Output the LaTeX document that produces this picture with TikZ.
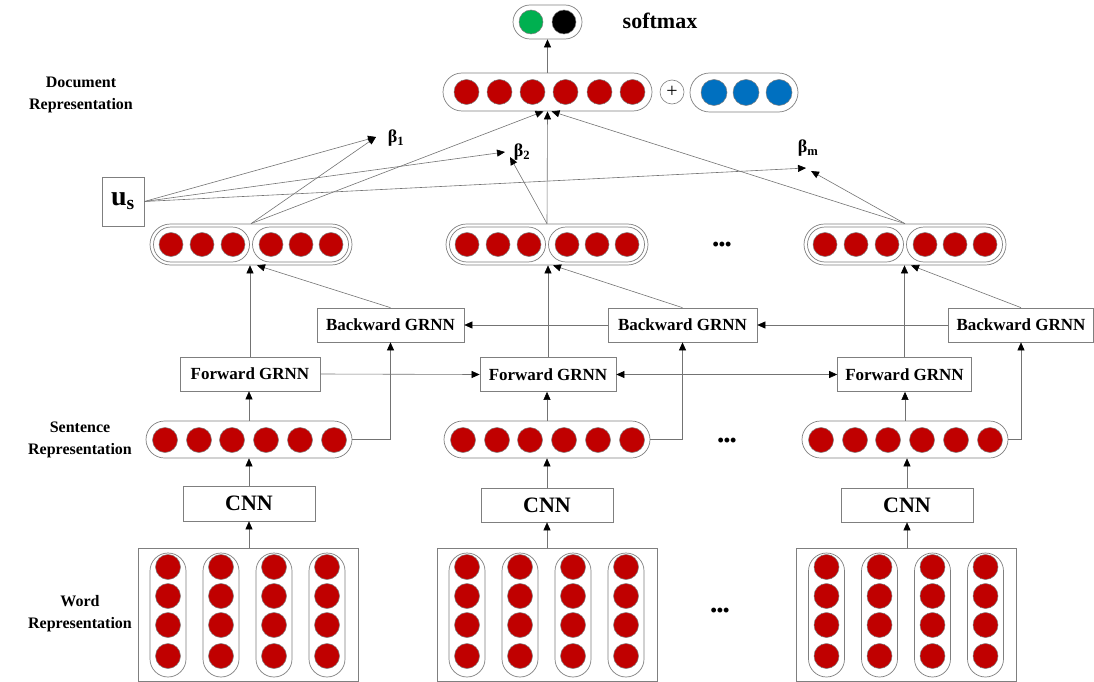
\documentclass[tikz,border=0pt]{standalone}
\usepackage{fontspec}
\setmainfont{Liberation Serif}
\usetikzlibrary{arrows.meta}
\definecolor{dred}{HTML}{C00000}
\definecolor{sgreen}{HTML}{00B050}
\definecolor{sblue}{HTML}{0070C0}
\definecolor{edgec}{HTML}{7F7F7F}
\newcommand\mygrp[2]{%
  \node[pill=20.5,minimum width=202pt,minimum height=41pt] (#1) at (#2,244.5) {};
  \node[pill=17.5,minimum width=96pt,minimum height=35pt] (#1l) at ({#2-49.5},244.5) {};
  \node[pill=17.5,minimum width=96pt,minimum height=35pt] (#1r) at ({#2+49.5},244.5) {};
  \foreach \i/\dx in {1/-80,2/-49,3/-18,4/20,5/50,6/80}
    \node[ball,minimum size=24pt] (#1c\i) at ({#2+\dx},244.5) {};
}
\newcommand\mysent[2]{%
  \node[pill=18.5,minimum width=206pt,minimum height=37pt] (#1) at (#2,439.5) {};
  \foreach \i/\dx in {1/-84,2/-50,3/-17,4/17,5/51,6/85}
    \node[ball] (#1c\i) at ({#2+\dx},440) {};
}
\newcommand\myword[2]{%
  \node[box,minimum width=220pt,minimum height=133pt] (#1) at (#2,614.5) {};
  \foreach \j/\dx in {1/-80,2/-27,3/26,4/79}{
    \node[pill=18,minimum width=36pt,minimum height=124pt] (#1k\j) at ({#2+\dx},615) {};
    \foreach \i/\yy in {1/567,2/596,3/625,4/656}
      \node[ball] (#1k\j c\i) at ({#2+\dx},\yy) {};
  }
}
\begin{document}
\begin{tikzpicture}[x=1pt,y=-1pt,
  every node/.style={font=\bfseries},
  ball/.style={circle,draw=edgec,line width=0.5pt,minimum size=25pt,inner sep=0pt,fill=dred},
  pill/.style={draw=edgec,line width=0.7pt,inner sep=0pt,rounded corners=#1},
  box/.style={draw=edgec,line width=0.7pt,inner sep=0pt,fill=white},
  lab/.style={align=center,font=\bfseries\fontsize{16}{22}\selectfont},
  grnn/.style={box,minimum height=34pt,font=\bfseries\fontsize{17}{17}\selectfont},
  cnn/.style={box,minimum width=132pt,font=\bfseries\fontsize{22}{22}\selectfont},
  beta/.style={font=\bfseries\fontsize{18}{18}\selectfont},
  dots/.style={font=\bfseries\fontsize{18}{18}\selectfont},
  conn/.style={draw=black!55,line width=0.6pt},
  tip/.tip={Triangle[length=8pt,width=7pt,color=black]},
  arr/.style={conn,-tip},
  arrboth/.style={conn,tip-tip},
]
\useasboundingbox (0,0) rectangle (1094,682);

% softmax
\node[pill=17,minimum width=69pt,minimum height=34pt] (sm) at (547.5,22) {};
\node[ball,fill=sgreen,minimum size=24pt] (sm1) at (531,22) {};
\node[ball,fill=black,minimum size=24pt] (sm2) at (564,22) {};
\node[font=\bfseries\fontsize{22}{22}\selectfont] (smt) at (660,21) {softmax};

% document representation
\node[pill=19,minimum width=209pt,minimum height=38pt] (doc) at (547.5,92) {};
\foreach \i/\dx in {1/-81,2/-48,3/-15,4/18,5/52,6/85}
  \node[ball] (doc\i) at ({547.5+\dx},92) {};
\node[circle,draw=edgec,line width=0.6pt,minimum size=24pt,inner sep=0pt,
      font=\fontsize{20}{20}\selectfont] (plus) at (672,92) {+};
\node[pill=19.5,minimum width=108pt,minimum height=39pt] (ext) at (744,92.5) {};
\foreach \i/\xx in {1/714,2/746,3/779}
  \node[ball,fill=sblue,minimum size=26pt] (ext\i) at (\xx,92.5) {};
\node[lab] (ldoc) at (81,95) {Document\\Representation};

% u_s and betas
\node[box,minimum width=42pt,minimum height=49pt,font=\bfseries\fontsize{28}{28}\selectfont] (us) at (123,201.5) {u\textsubscript{s}};
\coordinate (b1) at (376,137);
\coordinate (b2u) at (505,152);
\coordinate (b2g) at (510,157);
\coordinate (bmu) at (806,168);
\coordinate (bmg) at (811,171);
\node[beta] (lb1) at (396,138) {β\textsubscript{1}};
\node[beta] (lb2) at (522,152) {β\textsubscript{2}};
\node[beta] (lbm) at (808,148) {β\textsubscript{m}};

% bi-directional outputs
\mygrp{ga}{251}
\mygrp{gb}{547}
\mygrp{gc}{905}
\node[dots] (dotsa) at (722,246) {•••};

% GRNN boxes
\node[grnn,minimum width=147pt] (ba) at (390.5,325) {Backward GRNN};
\node[grnn,minimum width=149pt] (bb) at (682.5,325) {Backward GRNN};
\node[grnn,minimum width=145pt] (bc) at (1021,325) {Backward GRNN};
\node[grnn,minimum width=140pt] (fa) at (250,374) {Forward GRNN};
\node[grnn,minimum width=136pt] (fb) at (548,374.5) {Forward GRNN};
\node[grnn,minimum width=134pt] (fc) at (904.5,374.5) {Forward GRNN};

% sentence representation
\mysent{sa}{249}
\mysent{sb}{547}
\mysent{sc}{905}
\node[dots] (dotsb) at (727,442) {•••};
\node[lab] (lsent) at (80,440) {Sentence\\Representation};

% CNN
\node[cnn,minimum height=35pt] (ca) at (249,503.5) {CNN};
\node[cnn,minimum height=34pt] (cb) at (547,505) {CNN};
\node[cnn,minimum height=34pt] (cc) at (907,505) {CNN};

% word representation
\myword{wa}{248}
\myword{wb}{547}
\myword{wc}{906.5}
\node[dots] (dotsc) at (720,612) {•••};
\node[lab] (lword) at (80,614) {Word\\Representation};

% connectors
\draw[arr] (doc.north) -- (doc.north |- sm.south);
\draw[arr] (us.east) -- (b1);
\draw[arr] (us.east) -- (b2u);
\draw[arr] (us.east) -- (bmu);
\draw[arr] (ga.north) -- (b1);
\draw[arr] (ga.north) -- ([xshift=-4pt]doc.south);
\draw[arr] (gb.north) -- (b2g);
\draw[arr] (gb.north) -- (doc.south);
\draw[arr] (gc.north) -- (bmg);
\draw[arr] (gc.north) -- ([xshift=4pt]doc.south);

\foreach \g/\f/\b in {ga/fa/ba,gb/fb/bb,gc/fc/bc}{
  \draw[arr] (\f.north) -- (\f.north |- \g.south);
  \draw[arr] (\b.north) -- ([xshift=6pt]\g.south);
}
\draw[arr] (fa.east) -- (fb.west);
\draw[arrboth] (fb.east) -- (fc.west);
\draw[arr] (bc.west) -- (bb.east);
\draw[arr] (bb.west) -- (ba.east);

\foreach \s/\f/\b/\c/\w in {sa/fa/ba/ca/wa,sb/fb/bb/cb/wb,sc/fc/bc/cc/wc}{
  \draw[arr] (\s.north) -- (\s.north |- \f.south);
  \draw[arr] (\s.east) -| (\b.south);
  \draw[arr] (\c.north) -- (\c.north |- \s.south);
  \draw[arr] (\c.south |- \w.north) -- (\c.south);
}
\end{tikzpicture}
\end{document}
